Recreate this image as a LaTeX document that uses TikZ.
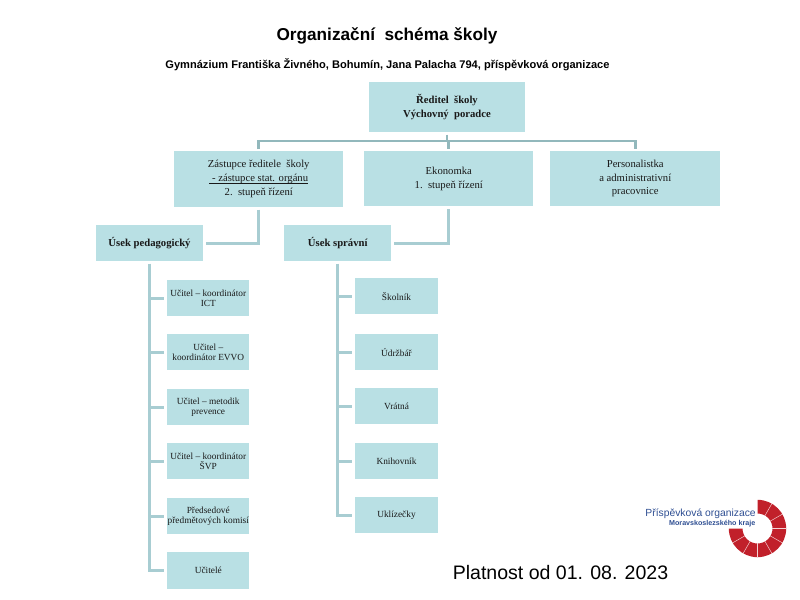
\documentclass[tikz,border=0pt]{standalone}
\usepackage{fontspec}
\setmainfont{Liberation Serif}
\newfontfamily\arial{Liberation Sans}
\definecolor{boxfill}{HTML}{B9E0E4}
\definecolor{lineteal}{HTML}{A8CDD2}
\definecolor{linedark}{HTML}{92B8BC}
\definecolor{logored}{HTML}{C1202A}
\definecolor{logoblue}{HTML}{2F4F93}
\tikzset{
  box/.style={fill=boxfill,draw=none,inner sep=0pt,align=center,text=black!90,font=\fontsize{8}{10.2}\selectfont},
  small/.style={box,font=\fontsize{7}{7.2}\selectfont},
  conn/.style={draw=lineteal,line width=2pt,line cap=butt,line join=miter},
  conndark/.style={draw=linedark,line width=2pt,line join=miter},
  sans/.style={inner sep=0pt,text=black,align=center},
}
\newcommand{\boxat}[6][box]{\node[#1,minimum width=#4*0.75pt,minimum height=#5*0.75pt,anchor=north west] (#2) at (#3) {#6};}
\newlength{\ulinew}
\newcommand{\ulinetext}[1]{\settowidth{\ulinew}{#1}\rlap{\rule[-1.2pt]{\ulinew}{0.4pt}}#1}
\begin{document}
\begin{tikzpicture}[x=0.75pt,y=-0.75pt]
\useasboundingbox (0,0) rectangle (800,600);
\fill[white] (0,0) rectangle (800,600);

\node[sans,font=\arial\fontsize{12.9}{15}\bfseries\selectfont] (title) at (387,36) {Organizační\ \ schéma školy};
\node[sans,font=\arial\fontsize{8.3}{10}\bfseries\selectfont] (sub) at (387.5,65) {Gymnázium Františka Živného, Bohumín, Jana Palacha 794, příspěvková organizace};

\boxat{red}{369,82}{155.5}{49.5}{\bfseries Ředitel\ \ školy\\\bfseries Výchovný\ \ poradce}
\boxat{zast}{174,151}{169}{55.5}{Zástupce ředitele\ \ školy\\\ulinetext{\ - zástupce stat. orgánu}\\2.\ \ stupeň řízení}
\boxat{eko}{364,151}{169}{55}{Ekonomka\\1.\ \ stupeň řízení}
\boxat{pers}{550,151}{170}{55}{Personalistka\\a administrativní\\pracovnice}
\boxat{ped}{96,225}{106.5}{36}{\bfseries Úsek pedagogický}
\boxat{spr}{284,225}{107}{36}{\bfseries Úsek správní}

\boxat[small]{ua}{167,280}{82}{36}{Učitel -- koordinátor\\ICT}
\boxat[small]{ub}{167,334}{82}{36}{Učitel --\\koordinátor EVVO}
\boxat[small]{uc}{167,389}{82}{36}{Učitel -- metodik\\prevence}
\boxat[small]{ud}{167,443}{82}{36}{Učitel -- koordinátor\\ŠVP}
\boxat[small]{ue}{167,498}{82}{36}{Předsedové\\předmětových komisí}
\boxat[small]{uf}{167,552}{82}{37}{Učitelé}

\boxat[small]{sa}{355,278}{82.5}{36}{Školník}
\boxat[small]{sb}{355,334}{82.5}{36}{Údržbář}
\boxat[small]{sc}{355,388}{82.5}{36}{Vrátná}
\boxat[small]{sd}{355,443}{82.5}{36}{Knihovník}
\boxat[small]{se}{355,497}{82.5}{36}{Uklízečky}

\coordinate (bus) at (447,141);
\draw[conndark,shorten <=2pt] (red.south) -- (red.south |- bus);
\draw[conndark,shorten <=1.5pt,shorten >=1.5pt] (zast.north) -- (zast.north |- bus) -- (pers.north |- bus) -- (pers.north);
\draw[conndark,shorten >=1.5pt] (eko.north |- bus) -- (eko.north);

\draw[conn,shorten <=2pt,shorten >=2pt] (zast.south) |- (ped.east);
\draw[conn,shorten <=2pt,shorten >=2pt] (eko.south) |- (spr.east);

\draw[conn,shorten <=1.5pt,shorten >=2pt] (ped.south) -- (ped.south |- uf.west) -- (uf.west);
\foreach \n in {ua,ub,uc,ud,ue}
  \draw[conn,shorten >=2pt] (ped.south |- \n.west) -- (\n.west);

\draw[conn,shorten <=1.5pt,shorten >=2pt] (spr.south) -- (spr.south |- se.west) -- (se.west);
\foreach \n in {sa,sb,sc,sd}
  \draw[conn,shorten >=2pt] (spr.south |- \n.west) -- (\n.west);

\node[sans,font=\arial\fontsize{14.65}{18}\selectfont] (valid) at (560.5,573) {Platnost od 01. 08. 2023};

% logo
\coordinate (logoc) at (757.5,528.5);
\fill[logored] (logoc) ++(90:21.5pt) arc[start angle=90,end angle=-180,radius=21.5pt]
  -- ++(0:10.25pt) arc[start angle=-180,end angle=90,radius=11.25pt] -- cycle;
\foreach \a in {60,30,0,-30,-60,-90,-120,-150}
  \draw[white!80!logored,line width=0.35pt] (logoc) ++(\a:11pt) -- ++(\a:10.8pt);
\node[sans,anchor=east,text=logoblue,font=\arial\fontsize{7.75}{9}\selectfont] (logoa) at (756,514) {Příspěvková organizace};
\node[sans,anchor=east,text=logoblue,font=\arial\fontsize{5.35}{6}\bfseries\selectfont] (logob) at (755.5,524) {Moravskoslezského kraje};
\end{tikzpicture}
\end{document}
